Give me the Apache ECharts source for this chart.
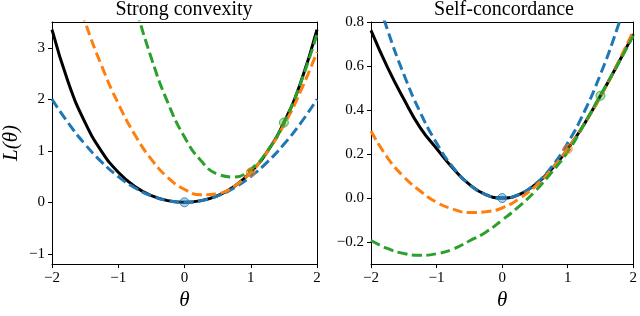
<!DOCTYPE html>
<html>
<head>
<meta charset="utf-8">
<script src="https://cdn.jsdelivr.net/npm/echarts@6/dist/echarts.min.js"></script>
<style>html,body{margin:0;padding:0;background:#fff}#c{width:640px;height:316px}</style>
</head>
<body>
<div id="c"></div>
<script>
// shared theta grid
const theta = [-2, -1.75, -1.5, -1.25, -1, -0.75, -0.5, -0.25, 0, 0.25, 0.5, 0.75, 1, 1.25, 1.5, 1.75, 2];
const xTicks = [-2, -1, 0, 1, 2];

// Left panel: Strong convexity
const scLoss   = [3.35, 2.313, 1.547, 0.985, 0.583, 0.308, 0.130, 0.032, 0, 0.032, 0.130, 0.308, 0.583, 0.985, 1.547, 2.313, 3.35];
const scBlue   = [2.0, 1.531, 1.125, 0.781, 0.5, 0.281, 0.125, 0.031, 0, 0.031, 0.125, 0.281, 0.5, 0.781, 1.125, 1.531, 2.0];
const scOrange = [5.583, 4.479, 3.5, 2.646, 1.917, 1.313, 0.833, 0.479, 0.25, 0.146, 0.167, 0.313, 0.583, 0.979, 1.5, 2.146, 2.917];
const scGreen  = [12.27, 10.18, 8.297, 6.617, 5.14, 3.868, 2.797, 1.930, 1.266, 0.805, 0.547, 0.492, 0.641, 0.993, 1.547, 2.305, 3.266];
const scYTicks = [-1, 0, 1, 2, 3];

// Right panel: Self-concordance
const cdLoss   = [0.762, 0.595, 0.45, 0.32, 0.225, 0.135, 0.062, 0.016, 0, 0.015, 0.06, 0.13, 0.223, 0.335, 0.465, 0.6, 0.745];
const cdBlue   = [1.0, 0.766, 0.5625, 0.39, 0.25, 0.14, 0.0625, 0.0156, 0, 0.0156, 0.0625, 0.14, 0.25, 0.39, 0.5625, 0.766, 1.0];
const cdOrange = [0.305, 0.184, 0.097, 0.032, -0.019, -0.05, -0.066, -0.062, -0.045, -0.005, 0.052, 0.128, 0.223, 0.335, 0.46, 0.605, 0.758];
const cdGreen  = [-0.193, -0.229, -0.252, -0.26, -0.253, -0.232, -0.195, -0.155, -0.10, -0.04, 0.03, 0.115, 0.21, 0.335, 0.467, 0.60, 0.737];
const cdYTicks = [-0.2, 0, 0.2, 0.4, 0.6, 0.8];

// expansion points
const markTheta = [0, 1, 1.5];
const scMarkVal = [0, 0.583, 1.547];
const cdMarkVal = [0, 0.223, 0.465];

const titles = ['Strong convexity', 'Self-concordance'];
const colors = ['#1f77b4', '#ff7f0e', '#2ca02c'];
const markFill = ['rgba(31,119,180,0.45)', 'rgba(255,127,14,0.45)', 'rgba(44,160,44,0.45)'];

const FONT = '"Liberation Serif", "DejaVu Serif", serif';
const pair = (arr) => theta.map((t, i) => [t, arr[i]]);
const minus = (s) => String(s).replace('-', '\u2212');

const grids = [
  {left: 51, top: 22, width: 266, height: 253},
  {left: 371, top: 22, width: 266, height: 253}
];

const frameLine = {show: true, onZero: false, lineStyle: {color: '#000', width: 1}};

function xAxes(idx) {
  return [{
    type: 'value', gridIndex: idx, min: -2, max: 2, interval: 1, position: 'bottom',
    name: 'θ', nameLocation: 'middle', nameGap: 12,
    nameTextStyle: {fontFamily: FONT, fontStyle: 'italic', fontSize: 21, color: '#000', verticalAlign: 'top'},
    axisLine: frameLine,
    axisTick: {show: true, length: 4, lineStyle: {color: '#000', width: 1}, customValues: xTicks},
    axisLabel: {fontFamily: FONT, fontSize: 15, color: '#000', margin: 6, customValues: xTicks, formatter: v => minus(v)},
    splitLine: {show: false}
  }, {
    type: 'value', gridIndex: idx, min: -2, max: 2, position: 'top',
    axisLine: frameLine, axisTick: {show: false}, axisLabel: {show: false}, splitLine: {show: false}
  }];
}
function yAxes(idx, min, max, ticks, fmt, name) {
  return [{
    type: 'value', gridIndex: idx, min: min, max: max, position: 'left',
    name: name || '', nameLocation: 'middle', nameGap: 30, nameRotate: 90,
    nameTextStyle: {fontFamily: FONT, fontStyle: 'italic', fontSize: 21, color: '#000'},
    axisLine: frameLine,
    axisTick: {show: true, length: 4, lineStyle: {color: '#000', width: 1}, customValues: ticks},
    axisLabel: {fontFamily: FONT, fontSize: 15, color: '#000', margin: 7, customValues: ticks, formatter: fmt},
    splitLine: {show: false}
  }, {
    type: 'value', gridIndex: idx, min: min, max: max, position: 'right',
    axisLine: frameLine, axisTick: {show: false}, axisLabel: {show: false}, splitLine: {show: false}
  }];
}

// axis indices: panel idx -> x index 2*idx, y index 2*idx
function lineSeries(idx, data, color, dashed, z) {
  return {
    type: 'line', xAxisIndex: 2 * idx, yAxisIndex: 2 * idx, data: pair(data),
    smooth: true, showSymbol: false, symbol: 'none', clip: true, silent: true, z: z,
    lineStyle: {color: color, width: 3, type: dashed ? [10, 4.5] : 'solid', cap: 'butt'}
  };
}
function markSeries(idx, vals) {
  return markTheta.map((t, i) => ({
    type: 'scatter', xAxisIndex: 2 * idx, yAxisIndex: 2 * idx, data: [[t, vals[i]]],
    symbol: 'circle', symbolSize: 9, silent: true, z: 10,
    itemStyle: {color: markFill[i], borderColor: colors[i], borderWidth: 1}
  }));
}

const series = [];
[[scLoss, scBlue, scOrange, scGreen, scMarkVal], [cdLoss, cdBlue, cdOrange, cdGreen, cdMarkVal]].forEach((s, idx) => {
  series.push(lineSeries(idx, s[0], '#000', false, 2));
  series.push(lineSeries(idx, s[1], colors[0], true, 3));
  series.push(lineSeries(idx, s[2], colors[1], true, 4));
  series.push(lineSeries(idx, s[3], colors[2], true, 5));
  markSeries(idx, s[4]).forEach(m => series.push(m));
});

const chart = echarts.init(document.getElementById('c'), null, {renderer: 'canvas'});
chart.setOption({
  animation: false,
  backgroundColor: '#fff',
  grid: grids,
  xAxis: xAxes(0).concat(xAxes(1)),
  yAxis: yAxes(0, -1.2, 3.5, scYTicks, v => minus(v), 'L(θ)').concat(
         yAxes(1, -0.3, 0.8, cdYTicks, v => minus(Number(v).toFixed(1)))),
  graphic: titles.map((t, i) => ({
    type: 'text', x: i === 0 ? 184 : 504, y: 10,
    style: {text: t, fontFamily: FONT, fontSize: 20, fill: '#000', align: 'center', verticalAlign: 'middle'}
  })),
  series: series
});
</script>
</body>
</html>
